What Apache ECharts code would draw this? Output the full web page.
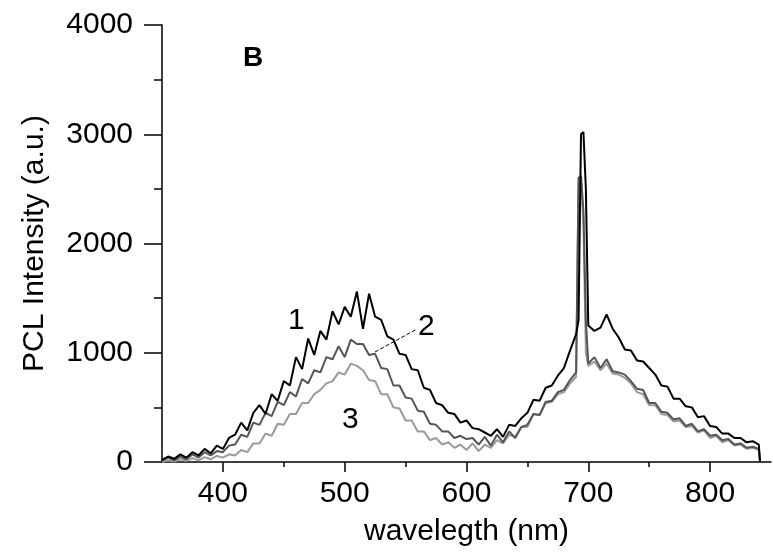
<!DOCTYPE html>
<html>
<head>
<meta charset="utf-8">
<script src="https://cdn.jsdelivr.net/npm/echarts@6/dist/echarts.min.js"></script>
<style>
  html, body { margin: 0; padding: 0; background: #fff; }
  #chart { width: 773px; height: 556px; }
</style>
</head>
<body>
<div id="chart"></div>
<script>
// wavelength (nm)
const wavelength = [
  350, 355, 360, 365, 370, 375, 380, 385, 390, 395,
  400, 405, 410, 415, 420, 425, 430, 435, 440, 445,
  450, 455, 460, 465, 470, 475, 480, 485, 490, 495,
  500, 505, 510, 515, 520, 525, 530, 535, 540, 545,
  550, 555, 560, 565, 570, 575, 580, 585, 590, 595,
  600, 605, 610, 615, 620, 625, 630, 635, 640, 645,
  650, 655, 660, 665, 670, 675, 680, 685, 690,
  692, 694, 696, 698,
  700, 705, 710, 715, 720, 725, 730, 735, 740, 745,
  750, 755, 760, 765, 770, 775, 780, 785, 790, 795,
  800, 805, 810, 815, 820, 825, 830, 835, 840,
  841
]
// curve 1 (black)
const curve1 = [
  20, 50, 30, 70, 40, 90, 60, 120, 80, 150,
  120, 220, 250, 360, 290, 450, 520, 440, 620, 560,
  740, 700, 960, 850, 1130, 980, 1200, 1120, 1380, 1260,
  1420, 1330, 1560, 1220, 1540, 1330, 1300, 1150, 1120, 990,
  980, 850, 840, 680, 660, 540, 520, 450, 440, 360,
  380, 310, 300, 270, 240, 300, 230, 340, 330, 400,
  450, 570, 560, 680, 700, 790, 860, 1020, 1170,
  1300, 3000, 3020, 2500,
  1250, 1200, 1230, 1350, 1220, 1140, 1030, 1020, 930, 920,
  860, 800, 700, 690, 580, 580, 510, 500, 410, 420,
  330, 320, 260, 260, 220, 220, 180, 190, 160,
  0
]
// curve 2 (dark grey)
const curve2 = [
  10, 40, 15, 50, 25, 70, 40, 90, 60, 100,
  90, 150, 160, 250, 230, 360, 340, 450, 420, 550,
  520, 640, 600, 760, 720, 840, 820, 960, 940, 1060,
  960, 1120, 1080, 1080, 980, 990, 860, 850, 700, 700,
  590, 580, 470, 460, 350, 340, 280, 280, 220, 240,
  210, 220, 160, 230, 150, 250, 180, 280, 220, 320,
  340, 440, 430, 550, 560, 640, 660, 750, 820,
  2600, 2620, 2300, 1300,
  900, 960, 860, 940, 830, 820, 800, 740, 670, 660,
  540, 540, 460, 450, 390, 400, 330, 350, 280, 300,
  240, 250, 200, 210, 160, 170, 130, 140, 120,
  0
]
// curve 3 (light grey)
const curve3 = [
  0, 15, 5, 25, 10, 35, 15, 45, 25, 55,
  40, 70, 60, 110, 90, 170, 170, 260, 240, 350,
  340, 440, 440, 540, 540, 620, 660, 720, 740, 820,
  800, 900, 880, 840, 750, 740, 620, 620, 500, 490,
  380, 380, 280, 280, 200, 220, 160, 180, 130, 160,
  110, 170, 100, 160, 130, 200, 170, 250, 230, 320,
  320, 440, 430, 540, 550, 620, 640, 720, 780,
  2550, 2580, 2200, 1000,
  880, 920, 840, 900, 810, 800, 770, 720, 640, 620,
  520, 520, 440, 430, 370, 380, 320, 330, 270, 290,
  220, 240, 180, 200, 150, 160, 120, 130, 110,
  0
]
const xMajor = [400, 500, 600, 700, 800]
const xMinor = [450, 550, 650, 750]

const font = 'Liberation Sans'
const chart = echarts.init(document.getElementById('chart'))

const pairs = ys => wavelength.map((x, i) => [x, ys[i]])

const option = {
  animation: false,
  grid: { left: 162, right: 2, top: 25, bottom: 94, outerBoundsMode: 'none' },
  xAxis: [
    {
      type: 'value', min: 350, max: 850,
      name: 'wavelegth (nm)', nameLocation: 'middle', nameGap: 55,
      nameTextStyle: { fontFamily: font, fontSize: 30, color: '#000', verticalAlign: 'top' },
      axisLine: { lineStyle: { color: '#000', width: 1.5 } },
      axisTick: { customValues: xMajor, length: 10, lineStyle: { color: '#000', width: 1.5 } },
      axisLabel: { customValues: xMajor, margin: 17, fontFamily: font, fontSize: 30, color: '#000' },
      splitLine: { show: false }
    },
    {
      type: 'value', min: 350, max: 850, position: 'bottom',
      axisLine: { show: false },
      axisTick: { customValues: xMinor, length: 5, lineStyle: { color: '#000', width: 1.5 } },
      axisLabel: { show: false },
      splitLine: { show: false }
    }
  ],
  yAxis: {
    type: 'value', min: 0, max: 4000, interval: 1000,
    name: 'PCL Intensity (a.u.)', nameLocation: 'middle', nameGap: 112,
    nameTextStyle: { fontFamily: font, fontSize: 30, color: '#000' },
    axisLine: { show: true, lineStyle: { color: '#000', width: 1.5 } },
    axisTick: { length: 18, lineStyle: { color: '#000', width: 1.5 } },
    minorTick: { show: true, splitNumber: 2, length: 8, lineStyle: { color: '#000', width: 1.5 } },
    axisLabel: { margin: 29, fontFamily: font, fontSize: 30, color: '#000', formatter: v => String(v) },
    splitLine: { show: false }
  },
  series: [
    { type: 'line', data: pairs(curve3), showSymbol: false, lineStyle: { color: '#9a9a9a', width: 2 } },
    { type: 'line', data: pairs(curve2), showSymbol: false, lineStyle: { color: '#555', width: 2 } },
    { type: 'line', data: pairs(curve1), showSymbol: false, lineStyle: { color: '#000', width: 2 } }
  ],
  graphic: [
    { type: 'text', left: 243, top: 44, style: { text: 'B', font: 'bold 28px ' + font, fill: '#000' } },
    { type: 'text', left: 288, top: 306, style: { text: '1', font: '30px ' + font, fill: '#000' } },
    { type: 'text', left: 418, top: 312, style: { text: '2', font: '30px ' + font, fill: '#000' } },
    { type: 'text', left: 342, top: 405, style: { text: '3', font: '30px ' + font, fill: '#000' } },
    { type: 'line', shape: { x1: 375, y1: 352, x2: 417, y2: 329 }, style: { stroke: '#000', lineWidth: 1, lineDash: [4, 2] } }
  ]
}
chart.setOption(option)
window.addEventListener('resize', () => {
  chart.resize()
})
</script>
</body>
</html>
